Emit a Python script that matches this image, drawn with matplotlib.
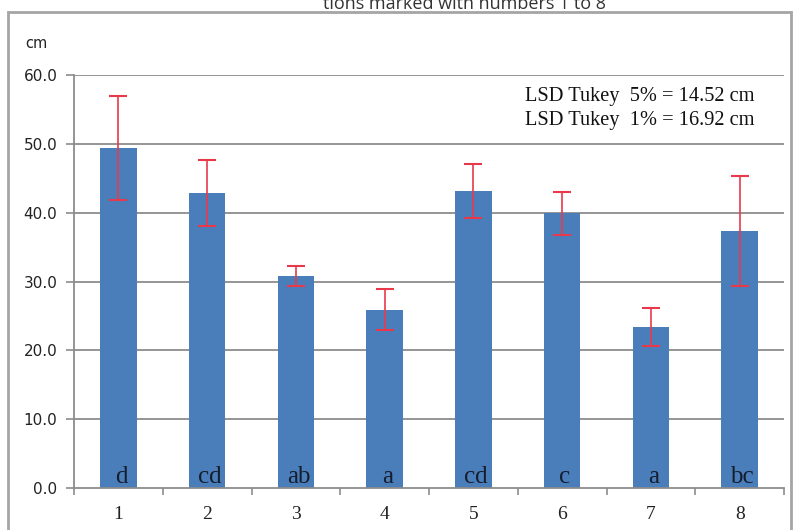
import matplotlib
matplotlib.use("Agg")
import matplotlib.pyplot as plt
from matplotlib.patches import Rectangle
import numpy as np

# Plant height per treatment (cm), standard deviation and Tukey groups
treatments = ["1", "2", "3", "4", "5", "6", "7", "8"]
heights = [49.4, 42.8, 30.8, 25.9, 43.1, 39.9, 23.4, 37.3]
errors = [7.5, 4.8, 1.5, 3.0, 3.9, 3.1, 2.7, 8.0]
groups = ["d", "cd", "ab", "a", "cd", "c", "a", "bc"]
y_ticks = [0, 10, 20, 30, 40, 50, 60]
lsd_lines = ["LSD Tukey  5% = 14.52 cm", "LSD Tukey  1% = 16.92 cm"]

W, H = 794, 530
fig = plt.figure(figsize=(W / 100, H / 100), dpi=100)
fig.patch.set_facecolor("white")

ax = fig.add_axes([74 / W, 1 - 488 / H, 710 / W, 413 / H])
x = np.arange(len(treatments))

grid_col = "#8c8c8c"
bar_col = "#4a7ebb"
err_col = "#e8394a"

ax.set_axisbelow(True)
for yv in y_ticks[1:]:
    ax.axhline(yv, color=grid_col, lw=1.3, zorder=0)

ax.bar(x, heights, width=0.41, color=bar_col, zorder=2)
ax.errorbar(x, heights, yerr=errors, fmt="none", ecolor=err_col,
            elinewidth=1.2, capsize=6.5, capthick=1.5, zorder=3)

for xi, g in zip(x, groups):
    ax.text(xi + 0.03, 0.75, g, ha="center", va="baseline", fontsize=18,
            family="Liberation Serif", color="#161d2c", zorder=4)

ax.set_xlim(-0.5, len(treatments) - 0.5)
ax.set_ylim(0, 60)

ax.set_yticks(y_ticks)
ax.set_yticklabels([f"{v:.1f}" for v in y_ticks], fontsize=11,
                   family="DejaVu Sans", color="#222222")
ax.set_xticks(x)
ax.set_xticklabels(treatments, fontsize=14, family="Liberation Serif",
                   color="#222222")
ax.set_xticks(np.arange(-0.5, len(treatments)), minor=True)

ax.tick_params(axis="y", direction="out", length=6, width=1.2,
               color=grid_col, pad=6)
ax.tick_params(axis="x", which="major", length=0, pad=13)
ax.tick_params(axis="x", which="minor", direction="out", length=5,
               width=1.2, color=grid_col)

for side in ("top", "right"):
    ax.spines[side].set_visible(False)
for side in ("left", "bottom"):
    ax.spines[side].set_color(grid_col)
    ax.spines[side].set_linewidth(1.3)

# unit label above the axis
fig.text(36 / W, 1 - 44 / H, "cm", ha="center", va="center",
         fontsize=10.5, family="DejaVu Sans", color="#222222")

# LSD annotation
fig.text(525 / W, 1 - 97 / H, lsd_lines[0], ha="left", va="center",
         fontsize=14.7, family="Liberation Serif", color="#111111")
fig.text(525 / W, 1 - 120 / H, lsd_lines[1], ha="left", va="center",
         fontsize=14.7, family="Liberation Serif", color="#111111")

# outer chart frame
fig.patches.append(Rectangle((8 / W, -0.05), (W - 11) / W, 1 - 12 / H + 0.05,
                             transform=fig.transFigure, fill=False,
                             edgecolor="#a5a5a5", lw=2))

# caption running above the frame
fig.text(464 / W, 1 - 9 / H, "tions marked with numbers 1 to 8",
         ha="center", va="baseline", fontsize=13, family="Open Sans",
         color="#333333")

fig.savefig("out.png", dpi=100)
